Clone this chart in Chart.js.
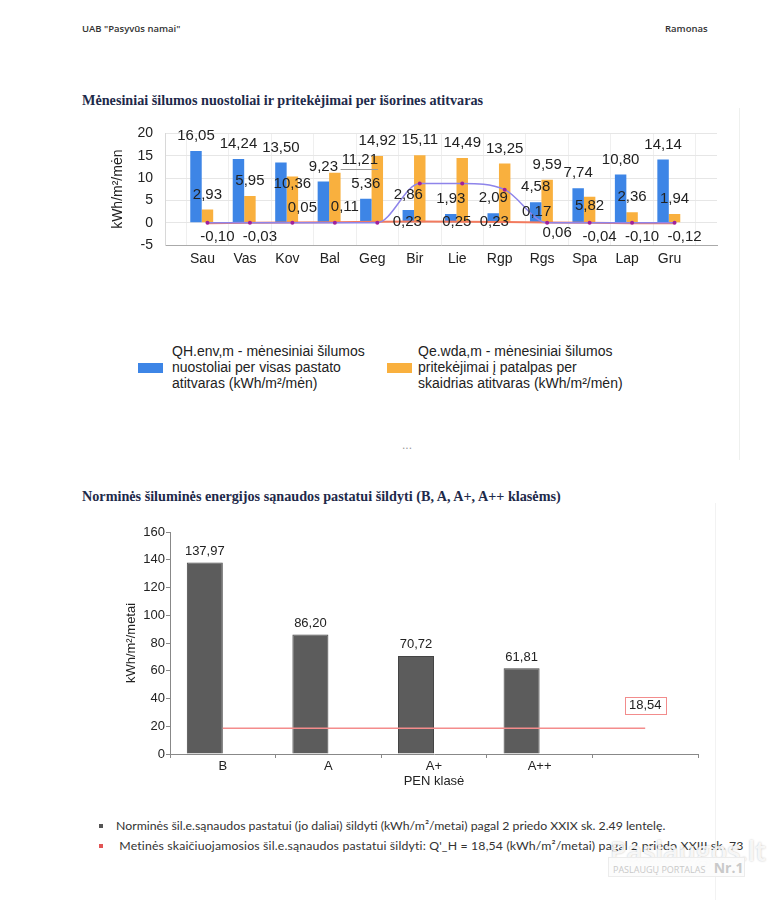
<!DOCTYPE html>
<html lang="lt">
<head>
<meta charset="utf-8">
<title>UAB "Pasyvūs namai" – šilumos balansas</title>
<script src="https://cdn.jsdelivr.net/npm/chart.js@4.4.1/dist/chart.umd.min.js"></script>
<style>
  html, body { margin: 0; padding: 0; background: #fff; }
  body { width: 772px; height: 900px; position: relative; overflow: hidden; font-family: "Liberation Sans", Arial, sans-serif; color: #222; }
  .abs { position: absolute; white-space: nowrap; }
  .hdr { top: 22px; font-family: "Open Sans", sans-serif; font-size: 9.5px; font-weight: 600; color: #333; }
  .title { left: 82px; font-family: "Liberation Serif", serif; font-weight: bold; font-size: 14.2px; color: #1e2a4a; }
  .leg1 { top: 343px; font-size: 14px; line-height: 16px; color: #222; }
  .box { width: 25px; height: 10px; top: 363px; }
  .leg2 { left: 99px; font-family: "Lato", sans-serif; font-size: 12.3px; color: #333; }
  .sq { display: inline-block; width: 4px; height: 4px; margin-right: 13px; vertical-align: middle; position: relative; top: -1px; }
  .vline { width: 1px; background: #eef0ee; }
  canvas { position: absolute; }
</style>
</head>
<body>
<div class="abs hdr" style="left:82px">UAB "Pasyvūs namai"</div>
<div class="abs hdr" style="left:665px">Ramonas</div>

<div class="abs title" style="top:92px">Mėnesiniai šilumos nuostoliai ir pritekėjimai per išorines atitvaras</div>
<div class="abs vline" style="left:739px;top:108px;height:352px"></div>
<canvas id="monthly" width="640" height="168" style="left:100px;top:113px"></canvas>

<div class="abs box" style="left:138px;background:#3d85e6"></div>
<div class="abs leg1" style="left:172px">QH.env,m - mėnesiniai šilumos<br>nuostoliai per visas pastato<br>atitvaras (kWh/m²/mėn)</div>
<div class="abs box" style="left:387px;background:#f9b03e"></div>
<div class="abs leg1" style="left:418px">Qe.wda,m - mėnesiniai šilumos<br>pritekėjimai į patalpas per<br>skaidrias atitvaras (kWh/m²/mėn)</div>
<div class="abs" style="left:402px;top:438px;font-size:12px;color:#999">...</div>

<div class="abs title" style="top:488px">Norminės šiluminės energijos sąnaudos pastatui šildyti (B, A, A+, A++ klasėms)</div>
<div class="abs vline" style="left:715px;top:503px;height:397px;background:#f2f2f2"></div>
<canvas id="norms" width="640" height="275" style="left:100px;top:515px"></canvas>

<div class="abs leg2" style="top:818px"><span class="sq" style="background:#555"></span>Norminės šil.e.sąnaudos pastatui (jo daliai) šildyti (kWh/m²/metai) pagal 2 priedo XXIX sk. 2.49 lentelę.</div>
<div class="abs leg2" style="top:838px;letter-spacing:0.15px"><span class="sq" style="background:#e25555"></span> Metinės skaičiuojamosios šil.e.sąnaudos pastatui šildyti: Q'_H = 18,54 (kWh/m²/metai) pagal 2 priedo XXIII sk. 73</div>

<div class="abs" style="left:610px;top:832px;font-family:'Open Sans',sans-serif;font-size:27px;font-weight:600;color:rgba(255,255,255,0.85);text-shadow:0 0 2px rgba(0,0,0,0.25)">Paslaugos.lt</div>
<div class="abs" style="left:608px;top:857px;width:137px;height:20px;border:1px solid #ececec;background:rgba(252,252,252,0.9);font-family:'Open Sans',sans-serif;font-size:9px;color:#c9c9c9;line-height:20px;padding-left:4px;box-sizing:border-box">PASLAUGŲ PORTALAS <span style="font-size:14px;font-weight:bold;margin-left:6px">Nr.1</span></div>

<script>
// monthly heat balance
const months = ['Sau', 'Vas', 'Kov', 'Bal', 'Geg', 'Bir', 'Lie', 'Rgp', 'Rgs', 'Spa', 'Lap', 'Gru'];
const heatLoss = [16.05, 14.24, 13.50, 9.23, 5.36, 2.86, 1.93, 2.09, 4.58, 7.74, 10.80, 14.14];
const solarGains = [2.93, 5.95, 10.36, 11.21, 14.92, 15.11, 14.49, 13.25, 9.59, 5.82, 2.36, 1.94];
const coolingLine = [0, 0, 0, 0, 0, 8.8, 8.8, 7.4, 0, 0, 0, 0];
const smallLine = [-0.10, -0.03, 0.05, 0.11, 0.23, 0.25, 0.23, 0.17, 0.06, -0.04, -0.10, -0.12];
const monthlyTicks = [-5, 0, 5, 10, 15, 20];

// yearly norms per class
const penClasses = ['B', 'A', 'A+', 'A++', ''];
const normValues = [137.97, 86.20, 70.72, 61.81, null];
const calculatedValue = 18.54;
const normTicks = [0, 20, 40, 60, 80, 100, 120, 140, 160];

const fmt = v => v.toFixed(2).replace('.', ',');
const pad = arr => [null, ...arr, null];
const FONT = '"Liberation Sans", Arial, sans-serif';

// draws the value next to each bar / point
const valueLabels = {
  id: 'valueLabels',
  afterDatasetsDraw(chart, args, opts) {
    const { ctx } = chart;
    ctx.save();
    ctx.font = opts.font;
    ctx.textAlign = 'center';
    ctx.textBaseline = 'middle';
    (opts.sets || []).forEach(set => {
      const ds = chart.data.datasets[set.dataset];
      chart.getDatasetMeta(set.dataset).data.forEach((el, i) => {
        const v = ds.data[i];
        if (v === null || v === undefined) return;
        const t = (set.nudge || {})[chart.data.labels[i]] || {};
        const x = el.x + (set.dx || 0) + (t.dx || 0);
        const y = el.y + (v < 0 ? set.below : -set.above) + (t.dy || 0);
        const text = fmt(v);
        ctx.fillStyle = opts.color;
        ctx.fillText(text, x, y);
        if (t.leader) {
          const w = ctx.measureText(text).width;
          const ly = Math.round(y + 9) + 0.5;
          ctx.strokeStyle = '#9a9a9a';
          ctx.lineWidth = 1;
          ctx.beginPath();
          ctx.moveTo(el.x + el.width / 2, ly);
          ctx.lineTo(x + w / 2, ly);
          ctx.stroke();
        }
      });
    });
    ctx.restore();
  }
};

// boxed label on the last point of a line
const boxLabel = {
  id: 'boxLabel',
  afterDatasetsDraw(chart, args, opts) {
    if (!opts.enabled) return;
    const { ctx } = chart;
    const pts = chart.getDatasetMeta(opts.dataset).data;
    const el = pts[pts.length - 1];
    const text = fmt(chart.data.datasets[opts.dataset].data[pts.length - 1]);
    ctx.save();
    ctx.font = opts.font;
    const w = Math.round(ctx.measureText(text).width + 8);
    const h = 17;
    const cx = el.x, cy = el.y + opts.dy;
    const bx = Math.round(cx - w / 2) + 0.5, by = Math.round(cy - h / 2) + 0.5;
    ctx.fillStyle = '#fff';
    ctx.fillRect(bx, by, w, h);
    ctx.strokeStyle = opts.borderColor;
    ctx.lineWidth = 1;
    ctx.strokeRect(bx, by, w, h);
    ctx.fillStyle = '#222';
    ctx.textAlign = 'center';
    ctx.textBaseline = 'middle';
    ctx.fillText(text, cx, cy + 0.5);
    ctx.restore();
  }
};

Chart.register(valueLabels, boxLabel);

new Chart(document.getElementById('monthly'), {
  type: 'bar',
  data: {
    labels: pad(months).map(m => m || ''),
    datasets: [
      { type: 'line', data: pad(coolingLine), borderColor: '#8e84ea', borderWidth: 1.5,
        pointRadius: 2, pointBackgroundColor: '#a0209c', pointBorderWidth: 0,
        cubicInterpolationMode: 'monotone', order: 0 },
      { type: 'line', data: pad(smallLine), borderColor: '#f27a5e', borderWidth: 2,
        pointRadius: 0, order: 1 },
      { data: pad(heatLoss), backgroundColor: '#3d85e6', order: 2 },
      { data: pad(solarGains), backgroundColor: '#f9b03e', order: 2 },
      { data: pad(months.map(() => null)), order: 2 }
    ]
  },
  options: {
    responsive: false,
    animation: false,
    devicePixelRatio: 1,
    layout: { padding: { top: 9, right: 23, left: 0, bottom: 0 } },
    datasets: { bar: { categoryPercentage: 0.81, barPercentage: 1.0 } },
    scales: {
      x: {
        offset: false,
        grid: { color: '#efefef', drawTicks: false },
        border: { color: '#aaaaaa' },
        ticks: { font: { family: FONT, size: 14 }, color: '#222', padding: 6, labelOffset: -5, autoSkip: false, maxRotation: 0 },
        afterFit: s => { s.height = 36; }
      },
      y: {
        min: -5, max: 20,
        afterBuildTicks: s => { s.ticks = monthlyTicks.map(v => ({ value: v })); },
        grid: { color: '#e6e6e6', drawTicks: false },
        border: { color: '#d8d8d8' },
        ticks: { font: { family: FONT, size: 14 }, color: '#222', padding: 12 },
        title: { display: true, text: 'kWh/m²/mėn', font: { family: FONT, size: 14 }, color: '#222', padding: { top: 10, bottom: 0 } },
        afterFit: s => { s.width = 65; }
      }
    },
    plugins: {
      legend: { display: false },
      tooltip: { enabled: false },
      valueLabels: {
        font: '15px ' + FONT,
        color: '#222',
        sets: [
          { dataset: 2, above: 15, below: 15 },
          { dataset: 3, above: 15, below: 15,
            nudge: { Kov: { dy: 22 }, Bal: { dx: 25, dy: 2, leader: true }, Spa: { dy: 24 } } },
          { dataset: 1, dx: 10, above: 15, below: 14,
            nudge: { Geg: { dx: 20, dy: 15 }, Bir: { dx: 27, dy: 15 }, Lie: { dx: 22, dy: 15 },
                     Rgp: { dx: 22, dy: 5 }, Rgs: { dx: 0, dy: 25 } } }
        ]
      },
      boxLabel: { enabled: false }
    }
  }
});

new Chart(document.getElementById('norms'), {
  type: 'bar',
  data: {
    labels: penClasses,
    datasets: [
      { type: 'line', data: penClasses.map(() => calculatedValue), borderColor: '#f48c8c',
        borderWidth: 1.5, pointRadius: 0, order: 0 },
      { data: normValues, backgroundColor: '#5c5c5c', borderColor: '#444', borderWidth: 1, order: 1 },
      { data: penClasses.map(() => null), order: 1 }
    ]
  },
  options: {
    responsive: false,
    animation: false,
    devicePixelRatio: 1,
    layout: { padding: { top: 17, right: 42, left: 0, bottom: 0 } },
    datasets: { bar: { categoryPercentage: 0.682, barPercentage: 1.0 } },
    scales: {
      x: {
        grid: { drawOnChartArea: false, drawTicks: true, tickLength: 4, color: '#888', offset: true },
        border: { color: '#888' },
        ticks: { font: { family: FONT, size: 13 }, color: '#222', padding: 1 },
        title: { display: true, text: 'PEN klasė', font: { family: FONT, size: 13 }, color: '#222', padding: { top: 0, bottom: 1 } },
        afterFit: s => { s.height = 36; }
      },
      y: {
        min: 0, max: 160,
        afterBuildTicks: s => { s.ticks = normTicks.map(v => ({ value: v })); },
        grid: { drawOnChartArea: false, drawTicks: true, tickLength: 4, color: '#888' },
        border: { color: '#888' },
        ticks: { font: { family: FONT, size: 13 }, color: '#222', padding: 1 },
        title: { display: true, text: 'kWh/m²/metai', font: { family: FONT, size: 13 }, color: '#222', padding: { top: 24, bottom: 0 } },
        afterFit: s => { s.width = 70; }
      }
    },
    plugins: {
      legend: { display: false },
      tooltip: { enabled: false },
      valueLabels: {
        font: '13px ' + FONT,
        color: '#222',
        sets: [{ dataset: 1, above: 11, below: 11 }]
      },
      boxLabel: { enabled: true, dataset: 0, dy: -23, font: '13px ' + FONT, borderColor: '#f28c8c' }
    }
  }
});
</script>
</body>
</html>
